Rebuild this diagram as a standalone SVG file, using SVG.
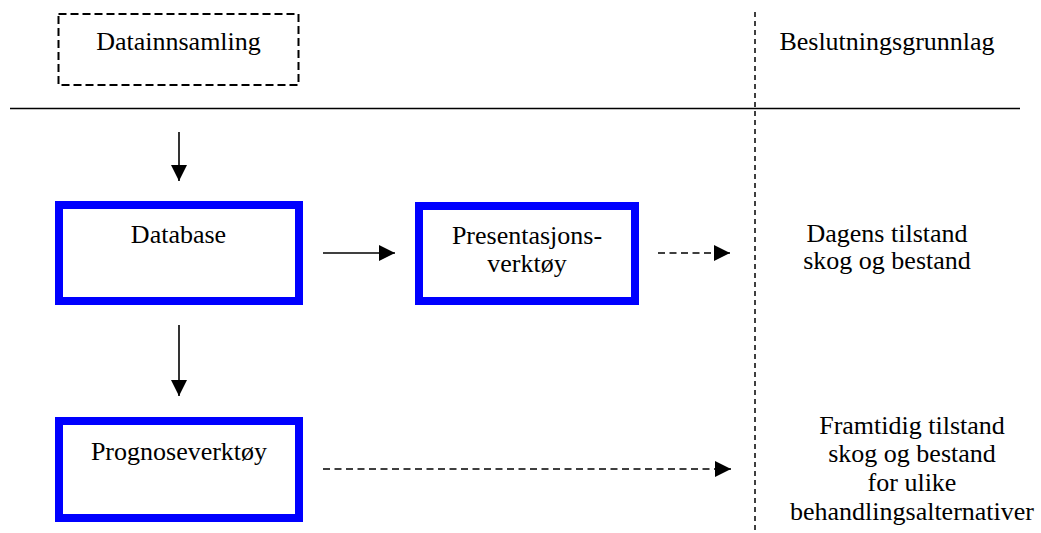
<svg xmlns="http://www.w3.org/2000/svg" width="1041" height="533" viewBox="0 0 1041 533">
<defs>
<style>
.t{font-family:'Liberation Serif','Times New Roman','DejaVu Serif',serif;font-size:26px;fill:#000;text-anchor:middle}
.box{fill:#fff;stroke:#0000ff;stroke-width:8}
.dbox{fill:none;stroke:#000;stroke-width:2;stroke-dasharray:8 4}
.ln{stroke:#000;stroke-width:1.6;fill:none}
.dl{stroke:#000;stroke-width:1.6;fill:none;stroke-dasharray:7 4.5}
.sep{stroke:#000;stroke-width:1.5;fill:none;stroke-dasharray:5 4}
</style>
<marker id="ah" markerUnits="userSpaceOnUse" markerWidth="16" markerHeight="16" viewBox="0 0 16 16" refX="16" refY="8" orient="auto">
<path d="M0,0 L16,8 L0,16 Z" fill="#000"/>
</marker>
</defs>
<g id="datainnsamling">
<rect class="dbox" x="58.5" y="14" width="240" height="71"/>
<text class="t" x="178.5" y="50">Datainnsamling</text>
</g>
<g id="beslutningsgrunnlag">
<text class="t" x="887" y="50">Beslutningsgrunnlag</text>
</g>
<g id="rules">
<line class="ln" x1="10" y1="108.5" x2="1020" y2="108.5"/>
<line class="sep" x1="755" y1="12" x2="755" y2="533"/>
</g>
<g id="database">
<rect class="box" x="59" y="205" width="240" height="96"/>
<text class="t" x="178.5" y="243">Database</text>
</g>
<g id="presentasjonsverktoy">
<rect class="box" x="419" y="206" width="216" height="95"/>
<text class="t" x="527" y="244">Presentasjons-</text>
<text class="t" x="527" y="272">verktøy</text>
</g>
<g id="prognoseverktoy">
<rect class="box" x="59" y="421" width="240" height="97"/>
<text class="t" x="179" y="460">Prognoseverktøy</text>
</g>
<g id="dagens">
<text class="t" x="887" y="242">Dagens tilstand</text>
<text class="t" x="887" y="269">skog og bestand</text>
</g>
<g id="framtidig">
<text class="t" x="912" y="434">Framtidig tilstand</text>
<text class="t" x="912" y="462">skog og bestand</text>
<text class="t" x="912" y="491">for ulike</text>
<text class="t" x="912" y="520">behandlingsalternativer</text>
</g>
<g id="connectors">
<line class="ln" x1="179" y1="132" x2="179" y2="181" marker-end="url(#ah)"/>
<line class="ln" x1="179" y1="325" x2="179" y2="396" marker-end="url(#ah)"/>
<line class="ln" x1="323" y1="253" x2="395" y2="253" marker-end="url(#ah)"/>
<line class="dl" x1="658" y1="253" x2="730" y2="253" marker-end="url(#ah)"/>
<line class="dl" x1="323" y1="469" x2="731" y2="469" marker-end="url(#ah)"/>
</g>
</svg>
